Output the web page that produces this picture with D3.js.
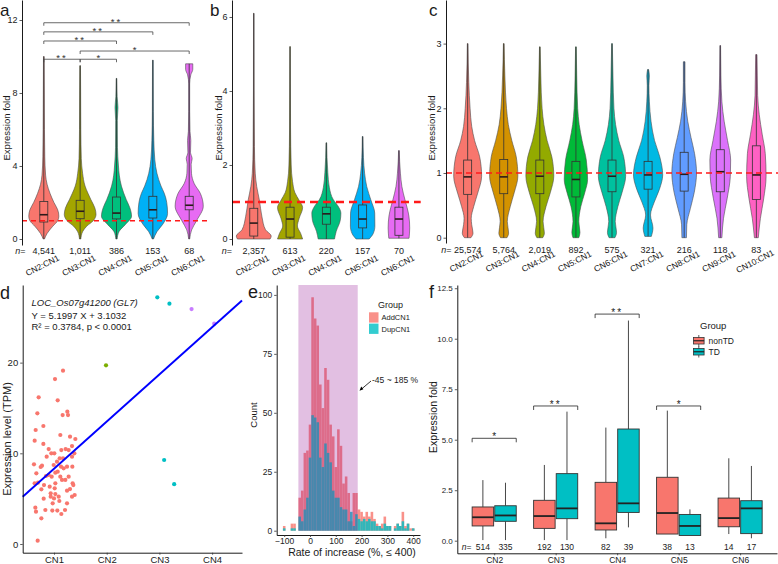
<!DOCTYPE html>
<html><head><meta charset="utf-8">
<script src="https://cdn.jsdelivr.net/npm/d3@7"></script>
<style>body{margin:0;background:#fff}</style>
</head><body>
<script>
// ================= DATA =================
const pal5 = ["#F8766D","#A3A500","#00BF7D","#00B0F6","#E76BF3"];
const pal9 = ["#F8766D","#D39200","#93AA00","#00BA38","#00C19F","#00B9E3","#619CFF","#DB72FB","#FF61C3"];

// ---- panel a ----
const catsA = ["CN2:CN1","CN3:CN1","CN4:CN1","CN5:CN1","CN6:CN1"];
const nA = ["4,541","1,011","386","153","68"];
const minA = [0,0,0,0,0];
const q1A  = [0.93,1.11,1.10,1.15,1.60];
const medA = [1.33,1.52,1.42,1.60,1.85];
const q3A  = [2.06,2.12,2.30,2.34,2.34];
const maxA = [10.0,9.5,8.8,9.8,9.6];
const yTicksA = [0,4,8,12];
const violinA = [
  [[0,0.04],[0.3,0.2],[0.7,0.55],[1.0,0.85],[1.25,0.92],[1.6,0.85],[2.0,0.62],[2.5,0.38],[3.0,0.2],[3.5,0.11],[4.5,0.06],[6,0.04],[8,0.03],[10,0.02]],
  [[0,0.04],[0.4,0.15],[0.7,0.4],[1.0,0.8],[1.35,0.97],[1.7,0.9],[2.15,0.66],[2.5,0.48],[2.9,0.3],[3.6,0.15],[4.4,0.07],[6,0.04],[8,0.03],[9.5,0.02]],
  [[0,0.04],[0.4,0.15],[0.8,0.55],[1.25,0.92],[1.7,0.82],[2.15,0.6],[2.9,0.3],[3.5,0.17],[4.0,0.12],[5,0.06],[6.5,0.05],[7.2,0.09],[7.8,0.04],[8.8,0.02]],
  [[0,0.04],[0.4,0.25],[0.8,0.6],[1.4,0.9],[2.0,0.85],[2.5,0.7],[2.9,0.5],[3.6,0.25],[4.35,0.12],[5.4,0.06],[7,0.03],[9.8,0.02]],
  [[0,0.03],[0.5,0.15],[1.0,0.45],[1.8,0.86],[2.5,0.68],[3.05,0.3],[3.6,0.14],[4.1,0.12],[4.4,0.18],[4.75,0.08],[5.4,0.1],[5.9,0.05],[7,0.03],[8.5,0.03],[9.0,0.1],[9.3,0.22],[9.6,0.22]]
];
// significance brackets: [from, to, height, label]
const sigA = [[0,1,9.85,"**"],[1,2,9.85,"*"],[1,4,10.3,"*"],[0,2,10.85,"**"],[0,3,11.35,"**"],[0,4,11.85,"**"]];

// ---- panel b ----
const catsB = ["CN2:CN1","CN3:CN1","CN4:CN1","CN5:CN1","CN6:CN1"];
const nB = ["2,357","613","220","157","70"];
const minB = [0,0,0,0,0.02];
const q1B  = [0.08,0.05,0.40,0.30,0.10];
const medB = [0.43,0.54,0.68,0.54,0.54];
const q3B  = [0.83,0.86,0.86,0.92,0.86];
const maxB = [6.1,5.2,2.6,2.77,2.39];
const yTicksB = [0,2,4,6];
const violinB = [
  [[0,1.0],[0.08,1.07],[0.25,0.72],[0.6,0.5],[1.06,0.34],[1.42,0.18],[1.78,0.09],[2.5,0.04],[4,0.02],[6.1,0.015]],
  [[0,0.77],[0.15,0.65],[0.35,0.45],[0.55,0.55],[0.85,0.77],[1.05,0.55],[1.25,0.3],[1.56,0.15],[2.0,0.07],[3,0.03],[5.2,0.015]],
  [[0,0.5],[0.2,0.6],[0.5,0.85],[0.7,0.89],[0.9,0.7],[1.06,0.43],[1.4,0.18],[1.8,0.09],[2.2,0.04],[2.6,0.02]],
  [[0,0.4],[0.15,0.65],[0.35,0.75],[0.7,0.74],[1.06,0.5],[1.42,0.25],[1.78,0.12],[2.2,0.05],[2.77,0.02]],
  [[0.02,0.62],[0.3,0.66],[0.62,0.61],[0.85,0.5],[1.06,0.37],[1.42,0.18],[1.78,0.09],[2.39,0.02]]
];

// ---- panel c ----
const catsC = ["CN2:CN1","CN3:CN1","CN4:CN1","CN5:CN1","CN6:CN1","CN7:CN1","CN8:CN1","CN9:CN1","CN10:CN1"];
const nC = ["25,574","5,764","2,019","892","575","321","216","118","83"];
const minC = [0,0,0,0,0,0.02,0,0,0];
const q1C  = [0.67,0.68,0.68,0.63,0.71,0.75,0.72,0.71,0.59];
const medC = [0.94,0.94,0.95,0.90,0.95,0.97,0.98,1.02,0.97];
const q3C  = [1.20,1.21,1.20,1.18,1.20,1.18,1.32,1.36,1.42];
const maxC = [3.0,3.0,2.95,2.95,3.0,2.6,2.72,2.97,2.83];
const yTicksC = [0,1,2,3];
const violinC = [
  [[0,0.2],[0.07,0.33],[0.2,0.25],[0.3,0.22],[0.48,0.37],[0.69,0.62],[0.95,0.86],[1.25,0.74],[1.5,0.43],[1.72,0.25],[2.0,0.15],[2.4,0.07],[3.0,0.02]],
  [[0,0.2],[0.07,0.3],[0.25,0.22],[0.48,0.4],[0.7,0.65],[0.95,0.87],[1.25,0.77],[1.5,0.5],[1.75,0.28],[2.0,0.17],[2.5,0.07],[3.0,0.02]],
  [[0,0.18],[0.07,0.28],[0.25,0.2],[0.48,0.38],[0.7,0.65],[0.95,0.86],[1.25,0.74],[1.5,0.45],[1.75,0.25],[2.0,0.14],[2.5,0.06],[2.95,0.02]],
  [[0,0.18],[0.08,0.25],[0.25,0.18],[0.48,0.3],[0.7,0.55],[0.9,0.72],[1.2,0.64],[1.5,0.38],[1.75,0.2],[2.0,0.11],[2.5,0.05],[2.95,0.02]],
  [[0,0.18],[0.08,0.28],[0.25,0.2],[0.48,0.36],[0.7,0.62],[0.95,0.84],[1.25,0.72],[1.5,0.42],[1.75,0.22],[2.0,0.12],[2.5,0.06],[3.0,0.02]],
  [[0.02,0.2],[0.15,0.3],[0.35,0.15],[0.55,0.38],[0.75,0.7],[0.97,0.9],[1.25,0.72],[1.5,0.4],[1.8,0.18],[2.1,0.08],[2.35,0.05],[2.5,0.08],[2.6,0.03]],
  [[0,0.14],[0.2,0.16],[0.45,0.38],[0.7,0.62],[1.0,0.76],[1.3,0.64],[1.55,0.42],[1.8,0.22],[2.1,0.09],[2.4,0.05],[2.72,0.05]],
  [[0,0.1],[0.3,0.2],[0.6,0.42],[0.95,0.62],[1.2,0.64],[1.5,0.45],[1.8,0.24],[2.1,0.1],[2.5,0.04],[2.97,0.02]],
  [[0,0.12],[0.3,0.25],[0.6,0.45],[0.95,0.6],[1.3,0.55],[1.6,0.36],[1.9,0.18],[2.2,0.08],[2.5,0.06],[2.83,0.04]]
];

// ---- panel d ----
const cnLevelsD = ["CN1","CN2","CN3","CN4"];
const cnColorsD = ["#F8766D","#7CAE00","#00BFC4","#C77CFF"];
// [copy number (jittered), TPM]
const ptsCN1 = [[1.171,19.11],[1.019,18.19],[0.709,16.17],[1.070,15.84],[0.684,14.41],[1.164,14.22],[1.253,14.59],[1.266,14.22],
 [0.798,13.01],[0.652,12.57],[1.120,12.02],[1.304,11.83],[0.633,11.39],[1.405,11.58],[0.798,11.03],[1.342,10.80],[0.899,10.47],
 [1.221,10.47],[1.139,10.36],[1.278,10.36],[0.949,10.0],[1.006,10.0],[1.386,10.0],[0.861,9.63],[1.342,9.63],[0.620,8.78],
 [0.772,8.64],[1.108,9.45],[1.171,9.45],[1.057,9.08],[0.747,8.49],[0.994,8.71],[0.665,7.79],[1.133,8.53],[1.183,8.34],
 [1.247,8.53],[1.348,8.53],[0.899,7.61],[1.025,7.86],[1.070,7.98],[0.956,7.42],[0.848,7.50],[1.120,7.42],[1.278,7.42],
 [1.152,7.06],[1.215,7.06],[0.633,6.69],[0.696,6.76],[1.354,6.69],[0.810,6.50],[1.367,6.50],[1.025,6.69],[0.918,6.32],
 [1.013,6.14],[0.760,6.03],[0.937,5.59],[1.025,5.51],[1.247,5.88],[1.304,6.06],[0.937,5.22],[1.000,5.03],[1.089,5.22],
 [1.342,5.22],[1.392,5.40],[0.804,5.00],[0.975,4.48],[1.101,4.74],[1.247,4.48],[0.646,4.01],[0.658,3.56],[0.836,3.75],
 [0.968,3.68],[1.063,3.68],[1.209,3.75],[1.139,3.31],[0.760,2.83],[0.690,0.37]];
// [copy number (jittered), TPM, level index]
const ptsOther = [[1.987,19.7,1],[2.96,27.2,2],[3.19,26.5,2],[3.09,9.26,2],[3.28,6.6,2],[3.61,25.9,3],[4.04,24.3,3]];
const regCoef = [5.1997, 3.1032]; // slope, intercept
const yTicksD = [0,10,20];

// ---- panel e ----
const binCenters = [-100,-90,-80,-70,-60,-50,-40,-30,-20,-10,0,10,20,30,40,50,60,70,80,90,100,110,120,130,140,150,160,170,180,190,200,210,220,230,240,250,260,270,280,290,300,310,320,330,340,350,360,370,380,390,400];
const addCN1 = [2,0,0,3,3,0,14,17,33,34,45,99,90,87,62,52,69,64,45,40,27,43,36,20,23,16,4,16,16,9,8,6,8,6,8,5,3,2,3,6,2,2,0,2,3,2,8,2,3,1,1];
const dupCN1 = [1,0,0,1,1,0,6,4,9,14,31,49,48,46,31,27,37,33,29,17,14,14,10,9,9,4,8,2,7,5,4,5,4,5,4,4,2,2,1,3,2,2,0,1,3,2,4,1,3,0,1];
const binWidth = 10;
const shadeRange = [-45,185];
const xTicksE = [-100,0,100,200,300,400];
const yTicksE = [0,25,50,75,100];

// ---- panel f ----
const catsF = ["CN2","CN3","CN4","CN5","CN6"];
const groupsF = ["nonTD","TD"];
const colorsF = ["#F8766D","#00BFC4"];
const statsF = { // min, q1, median, q3, max
  nonTD: {min:[0.03,0.03,0.12,0.33,0.33], q1:[0.73,0.61,0.53,0.33,0.69], med:[1.16,1.22,0.86,1.37,1.12], q3:[1.67,2.0,2.89,3.14,2.11], max:[3.0,3.75,5.6,6.44,4.08]},
  TD:    {min:[0.03,0.03,0.66,0.26,0.12], q1:[0.96,1.09,1.40,0.26,0.35], med:[1.25,1.60,1.85,0.73,1.60], q3:[1.73,3.32,5.53,1.30,1.98], max:[2.87,6.39,10.9,1.55,3.70]}
};
const nF = {nonTD:[514,192,82,38,14], TD:[335,130,39,13,17]};
const sigF = [[0,5.07,"*"],[1,6.67,"**"],[2,11.22,"**"],[3,6.67,"*"]];
const yTicksF = [0,2.5,5,7.5,10,12.5];

// ================= DRAWING =================
const FONT = "'Liberation Sans', Arial, Helvetica, sans-serif";
const svg = d3.select("body").append("svg").attr("width",778).attr("height",564)
  .style("font-family",FONT);
svg.append("rect").attr("width",778).attr("height",564).attr("fill","#fff");

function txt(g, x, y, s, o={}) {
  const t = g.append("text")
    .attr("transform", `translate(${x},${y})` + (o.sx ? ` scale(${o.sx},1)` : "") + (o.rot ? ` rotate(${o.rot})` : ""))
    .attr("font-size", o.size || 9)
    .attr("text-anchor", o.anchor || "start")
    .attr("fill", o.fill || "#1a1a1a")
    .attr("font-family", FONT)
    .text(s);
  if (o.italic) t.attr("font-style","italic");
  if (o.ls) t.attr("letter-spacing", o.ls);
  return t;
}
function styleAxis(a, size) {
  a.attr("font-family",FONT).attr("font-size",size);
  a.select(".domain").attr("stroke","#000").attr("stroke-width",0.9);
  a.selectAll(".tick line").attr("stroke","#333").attr("stroke-width",0.8);
  a.selectAll(".tick text").attr("fill","#222");
}
function leftAxis(g, scale, x, ticks, size, fmt) {
  const ax = d3.axisLeft(scale).tickValues(ticks).tickSize(2.5).tickPadding(2).tickSizeOuter(0)
    .tickFormat(fmt || d3.format("d"));
  const a = g.append("g").attr("transform",`translate(${x},0)`).call(ax);
  styleAxis(a,size);
  return a;
}
function nLabel(g, x, y, size) {
  const t = g.append("text").attr("x",x).attr("y",y).attr("font-size",size)
    .attr("text-anchor","end").attr("fill","#222").attr("font-family",FONT);
  t.append("tspan").attr("font-style","italic").text("n");
  t.append("tspan").text("=");
}

function violinPanel(o) {
  const g = svg.append("g");
  const x = d3.scalePoint().domain(o.cats).range(o.xRange).padding(0.6);
  const y = d3.scaleLinear().domain(o.yDomain).range(o.yRange);
  const half = x.step()*0.45;
  const boxW = 8;
  o.cats.forEach((c,i) => {
    const cx = x(c);
    const area = d3.area().y(d => y(d[0])).x0(d => cx - d[1]*half).x1(d => cx + d[1]*half)
      .curve(d3.curveMonotoneY);
    g.append("path").attr("d", area(o.violins[i])).attr("fill", o.colors[i])
      .attr("stroke","#4d4d4d").attr("stroke-width",0.6);
    g.append("line").attr("x1",cx).attr("x2",cx).attr("y1",y(o.min[i])).attr("y2",y(o.max[i]))
      .attr("stroke","#333").attr("stroke-width",0.8);
    g.append("rect").attr("x",cx-boxW/2).attr("width",boxW).attr("y",y(o.q3[i]))
      .attr("height",y(o.q1[i])-y(o.q3[i])).attr("fill",o.colors[i]).attr("stroke","#333").attr("stroke-width",0.8);
    g.append("line").attr("x1",cx-boxW/2).attr("x2",cx+boxW/2).attr("y1",y(o.med[i])).attr("y2",y(o.med[i]))
      .attr("stroke","#2a1a1a").attr("stroke-width",1.6);
    txt(g, cx, o.nY, o.n[i], {size:o.nSize, anchor:"middle"});
    txt(g, cx, o.labY, c, {size:8.5, anchor:"middle", rot:-27});
  });
  // reference line at 1
  g.append("line").attr("x1",o.xRange[0]).attr("x2",o.xRange[1]).attr("y1",y(1)).attr("y2",y(1))
    .attr("stroke","#FF1A1A").attr("stroke-width",o.dashW).attr("stroke-dasharray",o.dash);
  leftAxis(g, y, o.xRange[0], o.ticks, 9);
  nLabel(g, o.nX, o.nY, o.nSize);
  txt(g, o.titleX, o.titleY, "Expression fold", {size:9.5, anchor:"middle", rot:-90});
  return {g,x,y};
}

// ---- a ----
const A = violinPanel({cats:catsA, n:nA, violins:violinA, colors:pal5, min:minA, q1:q1A, med:medA, q3:q3A, max:maxA,
  xRange:[22,211], yDomain:[-0.329,13.096], yRange:[245,0], ticks:yTicksA, nY:254, nX:25.5, nSize:9, labY:268,
  dash:"5,4", dashW:1.3, titleX:10, titleY:128});
sigA.forEach(([i,j,h,lab]) => {
  const x1 = A.x(catsA[i]), x2 = A.x(catsA[j]), yy = A.y(h);
  A.g.append("path").attr("d",`M${x1},${yy+3}V${yy}H${x2}V${yy+3}`).attr("fill","none")
    .attr("stroke","#444").attr("stroke-width",0.8);
  txt(A.g, (x1+x2)/2, yy+2, lab, {size:9.5, anchor:"middle", ls: lab.length>1?"2px":null, fill:"#333"});
});

// ---- b ----
violinPanel({cats:catsB, n:nB, violins:violinB, colors:pal5, min:minB, q1:q1B, med:medB, q3:q3B, max:maxB,
  xRange:[232,420.7], yDomain:[-0.162,6.459], yRange:[245,0], ticks:yTicksB, nY:254, nX:232, nSize:9, labY:268,
  dash:"8,5", dashW:2.6, titleX:222, titleY:128});

// ---- c ----
violinPanel({cats:catsC, n:nC, violins:violinC, colors:pal9, min:minC, q1:q1C, med:medC, q3:q3C, max:maxC,
  xRange:[446,778], yDomain:[-0.082,3.674], yRange:[243,0], ticks:yTicksC, nY:252.5, nX:451.5, nSize:9, labY:264,
  dash:"6,4", dashW:1.5, titleX:435, titleY:128});

txt(svg, 0, 15.5, "a", {size:17});
txt(svg, 210, 15.5, "b", {size:17});
txt(svg, 429, 15.5, "c", {size:17});

// ---- d ----
{
  const g = svg.append("g");
  const x = d3.scaleLinear().domain([0.406,4.567]).range([22.7,242]);
  const y = d3.scaleLinear().domain([-0.96,28.56]).range([552.7,285]);
  g.selectAll("circle.cn1").data(ptsCN1).join("circle").attr("cx",d=>x(d[0])).attr("cy",d=>y(d[1]))
    .attr("r",2.1).attr("fill",cnColorsD[0]);
  g.selectAll("circle.oth").data(ptsOther).join("circle").attr("cx",d=>x(d[0])).attr("cy",d=>y(d[1]))
    .attr("r",2.1).attr("fill",d=>cnColorsD[d[2]]);
  const [x0,x1] = x.domain();
  g.append("line").attr("x1",x(x0)).attr("y1",y(regCoef[0]*x0+regCoef[1]))
    .attr("x2",x(x1)).attr("y2",y(regCoef[0]*x1+regCoef[1])).attr("stroke","#0000FF").attr("stroke-width",1.9);
  leftAxis(g, y, 22.7, yTicksD, 9.5);
  const ax = d3.axisBottom(x).tickValues([1,2,3,4]).tickFormat(d=>cnLevelsD[d-1]).tickSize(2).tickPadding(1.3).tickSizeOuter(0);
  styleAxis(g.append("g").attr("transform","translate(0,552.7)").call(ax), 9.5);
  txt(g, 31.5, 306, "LOC_Os07g41200 (GL7)", {size:9.5, italic:true});
  txt(g, 31.5, 319, "Y = 5.1997 X + 3.1032", {size:9.5});
  txt(g, 31.5, 329.5, "R² = 0.3784, p < 0.0001", {size:9.5});
  txt(g, 11, 439, "Expression level (TPM)", {size:11, anchor:"middle", rot:-90});
  txt(svg, 0, 299, "d", {size:18});
}

// ---- e ----
{
  const g = svg.append("g");
  const x = d3.scaleLinear().domain([-129.1,426.4]).range([276.7,420]);
  const y = d3.scaleLinear().domain([-1.82,104.2]).range([535,285]);
  binCenters.forEach((c,i) => {
    if (addCN1[i] > 0)
      g.append("rect").attr("x",x(c-binWidth/2)).attr("width",x(c+binWidth/2)-x(c-binWidth/2))
        .attr("y",y(addCN1[i])).attr("height",y(0)-y(addCN1[i])).attr("fill","#F8766D").attr("fill-opacity",0.8);
  });
  binCenters.forEach((c,i) => {
    if (dupCN1[i] > 0)
      g.append("rect").attr("x",x(c-binWidth/2)).attr("width",x(c+binWidth/2)-x(c-binWidth/2))
        .attr("y",y(dupCN1[i])).attr("height",y(0)-y(dupCN1[i])).attr("fill","#00BFC4").attr("fill-opacity",0.8);
  });
  g.append("rect").attr("x",x(shadeRange[0])).attr("width",x(shadeRange[1])-x(shadeRange[0]))
    .attr("y",285).attr("height",y(0)-285).attr("fill","#8B008B").attr("fill-opacity",0.25);
  leftAxis(g, y, 276.7, yTicksE, 8.5);
  const ax = d3.axisBottom(x).tickValues(xTicksE).tickSize(2).tickPadding(1).tickSizeOuter(0);
  styleAxis(g.append("g").attr("transform","translate(0,535)").call(ax), 8.5);
  txt(g, 352, 556, "Rate of increase (%, \u2264 400)", {size:10.5, anchor:"middle"});
  txt(g, 257, 415, "Count", {size:9.5, anchor:"middle", rot:-90});
  // legend
  txt(g, 378, 307.5, "Group", {size:9});
  g.append("rect").attr("x",369).attr("y",312.3).attr("width",9.5).attr("height",10.3).attr("fill","#F8766D").attr("fill-opacity",0.8);
  g.append("rect").attr("x",369).attr("y",323.6).attr("width",9.5).attr("height",10.3).attr("fill","#00BFC4").attr("fill-opacity",0.8);
  txt(g, 381.5, 320.3, "AddCN1", {size:7.5});
  txt(g, 381.5, 331.6, "DupCN1", {size:7.5});
  // annotation
  txt(g, 372, 382.5, "-45 ~ 185 %", {size:8.5});
  g.append("line").attr("x1",371).attr("y1",381).attr("x2",361).attr("y2",389.5).attr("stroke","#000").attr("stroke-width",0.8);
  g.append("path").attr("d","M359.5,390.8 L361.2,386.6 L363.4,389.2 Z").attr("fill","#000");
  txt(svg, 248, 298, "e", {size:18});
}

// ---- f ----
{
  const g = svg.append("g");
  const x = d3.scalePoint().domain(catsF).range([457.3,777]).padding(0.6);
  const y = d3.scaleLinear().domain([-0.624,12.66]).range([553.3,285]);
  const off = 11.3, bw = 21.5;
  groupsF.forEach((grp,k) => {
    const s = statsF[grp];
    catsF.forEach((c,i) => {
      const cx = x(c) + (k===0 ? -off : off);
      g.append("line").attr("x1",cx).attr("x2",cx).attr("y1",y(s.max[i])).attr("y2",y(s.q3[i])).attr("stroke","#333").attr("stroke-width",0.9);
      g.append("line").attr("x1",cx).attr("x2",cx).attr("y1",y(s.q1[i])).attr("y2",y(s.min[i])).attr("stroke","#333").attr("stroke-width",0.9);
      g.append("rect").attr("x",cx-bw/2).attr("width",bw).attr("y",y(s.q3[i])).attr("height",y(s.q1[i])-y(s.q3[i]))
        .attr("fill",colorsF[k]).attr("stroke","#333").attr("stroke-width",0.9);
      g.append("line").attr("x1",cx-bw/2).attr("x2",cx+bw/2).attr("y1",y(s.med[i])).attr("y2",y(s.med[i])).attr("stroke","#222").attr("stroke-width",1.8);
      txt(g, cx, 549.7, String(nF[grp][i]), {size:8.5, anchor:"middle"});
    });
  });
  sigF.forEach(([i,h,lab]) => {
    const x1 = x(catsF[i]) - off - bw/2, x2 = x(catsF[i]) + off + bw/2, yy = y(h);
    g.append("path").attr("d",`M${x1},${yy+4}V${yy}H${x2}V${yy+4}`).attr("fill","none").attr("stroke","#222").attr("stroke-width",0.8);
    txt(g, (x1+x2)/2, yy+2, lab, {size:10, anchor:"middle", ls: lab.length>1?"2px":null});
  });
  nLabel(g, 471.5, 549.7, 8.5);
  leftAxis(g, y, 457.3, yTicksF, 8, d3.format(".1f"));
  const ax = d3.axisBottom(x).tickSize(2).tickPadding(1.3).tickSizeOuter(0);
  styleAxis(g.append("g").attr("transform","translate(0,553.3)").call(ax), 8.5);
  txt(g, 437, 417, "Expression fold", {size:10.5, anchor:"middle", rot:-90});
  // legend
  txt(g, 700, 329, "Group", {size:9.5});
  groupsF.forEach((grp,k) => {
    const ky = 336 + k*11, kx = 693.5;
    g.append("line").attr("x1",kx+5.3).attr("x2",kx+5.3).attr("y1",ky-1).attr("y2",ky+10.5).attr("stroke","#333").attr("stroke-width",0.8);
    g.append("rect").attr("x",kx).attr("y",ky+1.5).attr("width",10.6).attr("height",6.5).attr("fill",colorsF[k]).attr("stroke","#333").attr("stroke-width",0.8);
    g.append("line").attr("x1",kx).attr("x2",kx+10.6).attr("y1",ky+4.75).attr("y2",ky+4.75).attr("stroke","#222").attr("stroke-width",1.2);
    txt(g, 708.5, ky+8, grp, {size:8.5});
  });
  txt(svg, 429, 298, "f", {size:18});
}
</script>
</body></html>
